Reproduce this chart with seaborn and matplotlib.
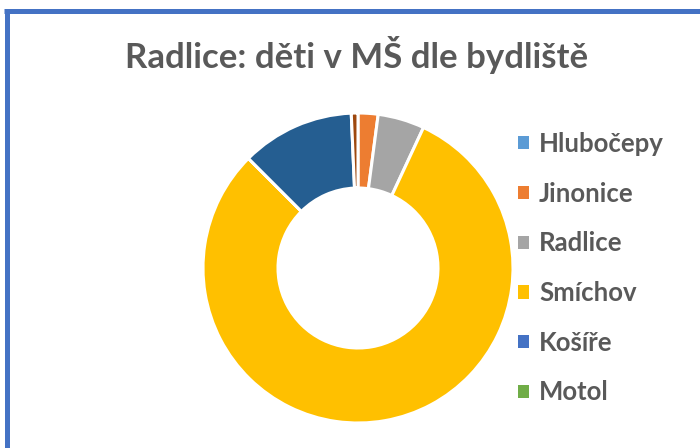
import matplotlib
matplotlib.use("Agg")
import matplotlib.pyplot as plt
import seaborn as sns
from matplotlib.lines import Line2D
from matplotlib.patches import Patch

sns.set_theme(style="white")
plt.rcParams['font.family'] = ['Lato', 'DejaVu Sans']

# Data (order clockwise from 12 o'clock)
categories = ["Hlubočepy", "Jinonice", "Radlice", "Smíchov", "Košíře", "Motol", "Stodůlky", "Ostatní"]
counts = [0, 3, 7, 116, 0, 0, 17, 1]
legend_count = 6
colors = sns.color_palette(["#5B9BD5", "#ED7D31", "#A5A5A5", "#FFC000",
                            "#4472C4", "#70AD47", "#255E91", "#9E480E"])

W, H = 700, 448
fig = plt.figure(figsize=(W / 100, H / 100), dpi=100)

# donut axes: center (358, 268), radius 155 px
cx, cy, r = 358, 268, 155
ax = fig.add_axes([(cx - r) / W, (H - cy - r) / H, 2 * r / W, 2 * r / H])
wedges, _ = ax.pie(counts, colors=colors, startangle=90, counterclock=False,
                   radius=1.0,
                   wedgeprops=dict(width=1 - 80 / 155, edgecolor="white", linewidth=2.2))
ax.set_xlim(-1, 1)
ax.set_ylim(-1, 1)
ax.set_aspect("equal")
ax.axis("off")

# title
fig.text(357 / W, 1 - 55 / H, "Radlice: děti v MŠ dle bydliště", ha="center", va="center",
         fontsize=25, fontweight="bold", color="#595959")

# legend
handles = [Patch(facecolor=colors[i], edgecolor="none") for i in range(legend_count)]
leg = fig.legend(handles, categories[:legend_count], loc="upper left",
                 bbox_to_anchor=(518 / W, 1 - 132 / H), frameon=False,
                 prop=dict(family="Lato", weight="bold", size=18.5),
                 labelcolor="#595959", handlelength=0.42, handleheight=0.42,
                 handletextpad=0.4, labelspacing=1.0, borderpad=0, borderaxespad=0)

# blue frame (left and top)
frame_c = "#4472C4"
fig.add_artist(Line2D([4 / W, 1.0], [1 - 11.5 / H, 1 - 11.5 / H], transform=fig.transFigure,
                      color=frame_c, linewidth=3.6, solid_capstyle="butt"))
fig.add_artist(Line2D([6.5 / W, 6.5 / W], [0.0, 1 - 9 / H], transform=fig.transFigure,
                      color=frame_c, linewidth=3.6, solid_capstyle="butt"))

fig.savefig("out.png", dpi=100, facecolor="white")
